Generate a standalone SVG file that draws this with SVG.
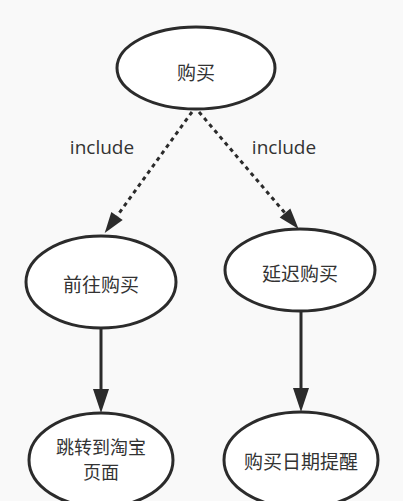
<svg xmlns="http://www.w3.org/2000/svg" width="403" height="501" viewBox="0 0 403 501">
<style>
.node ellipse{fill:#ffffff;stroke:#2b2b2b;stroke-width:3}
.node text{font-family:"Noto Sans CJK SC","Microsoft YaHei",sans-serif;font-size:19px;fill:#333333;text-anchor:middle;dominant-baseline:central}
.edge{stroke:#2b2b2b;stroke-width:3;fill:none}
.dash{stroke-dasharray:4 4}
.lbl{font-family:"Open Sans",sans-serif;font-size:19px;fill:#333333;text-anchor:middle;dominant-baseline:central}
</style>
<defs>
<marker id="ah" markerUnits="userSpaceOnUse" markerWidth="30" markerHeight="20" refX="0" refY="8" orient="auto" overflow="visible">
<path d="M0,0 L24,8 L0,16 Z" fill="#2b2b2b"/>
</marker>
<marker id="ahd" markerUnits="userSpaceOnUse" markerWidth="30" markerHeight="20" refX="0" refY="7" orient="auto" overflow="visible">
<path d="M0,0 L21,7 L0,14 Z" fill="#2b2b2b"/>
</marker>
</defs>
<rect width="403" height="501" fill="#f9f9f9"/>
<g id="connectors">
<path class="edge dash" d="M192,112 L117,216" marker-end="url(#ahd)"/>
<path class="edge dash" d="M199,112 L285,213" marker-end="url(#ahd)"/>
<path class="edge" d="M101,328 L101,389" marker-end="url(#ah)"/>
<path class="edge" d="M301,311 L301,388" marker-end="url(#ah)"/>
<text class="lbl" x="102" y="147">include</text>
<text class="lbl" x="284" y="147">include</text>
</g>
<g id="n-buy" class="node">
<ellipse cx="196" cy="68" rx="79" ry="41"/>
<text x="196" y="71">购买</text>
</g>
<g id="n-goto" class="node">
<ellipse cx="101" cy="282" rx="75" ry="46"/>
<text x="101" y="283">前往购买</text>
</g>
<g id="n-delay" class="node">
<ellipse cx="300" cy="270" rx="75" ry="41"/>
<text x="300" y="272">延迟购买</text>
</g>
<g id="n-taobao" class="node">
<ellipse cx="101" cy="460" rx="72" ry="47"/>
<text x="101" y="446" style="font-size:18px">跳转到淘宝</text>
<text x="101" y="471" style="font-size:18px">页面</text>
</g>
<g id="n-remind" class="node">
<ellipse cx="301" cy="460" rx="77" ry="48"/>
<text x="301" y="460">购买日期提醒</text>
</g>
</svg>
